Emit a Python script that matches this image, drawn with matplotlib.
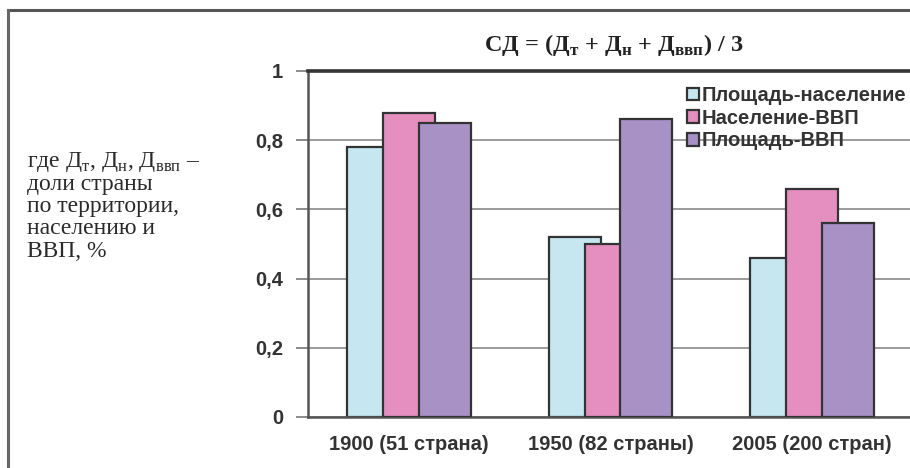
import numpy as np
import matplotlib.pyplot as plt
from matplotlib.lines import Line2D
from matplotlib.patches import Patch

plt.rcParams['mathtext.fontset'] = 'custom'
plt.rcParams['mathtext.rm'] = 'Liberation Serif'
plt.rcParams['mathtext.bf'] = 'Liberation Serif:bold'

categories = ["1900 (51 страна)", "1950 (82 страны)", "2005 (200 стран)"]
series_names = ["Площадь-население", "Население-ВВП", "Площадь-ВВП"]
area_pop = [0.78, 0.52, 0.46]
pop_gdp = [0.88, 0.50, 0.66]
area_gdp = [0.85, 0.86, 0.56]
yticks = [0, 0.2, 0.4, 0.6, 0.8, 1.0]
ytick_labels = ["0", "0,2", "0,4", "0,6", "0,8", "1"]

colors = ["#c6e7ef", "#e48fbf", "#a791c5"]
edge = "#333333"
sans = ['Liberation Sans', 'DejaVu Sans']
serif = ['Liberation Serif', 'DejaVu Serif']

W, H = 910, 468
fig = plt.figure(figsize=(W / 100, H / 100), dpi=100)
ax = fig.add_axes([308 / W, (H - 417) / H, (913 - 308) / W, (417 - 71) / H])

x = np.arange(len(categories))
width = 0.257
step = 0.178
for k, vals in enumerate([area_pop, pop_gdp, area_gdp]):
    ax.bar(x + (k - 1) * step, vals, width, color=colors[k],
           edgecolor=edge, linewidth=1.6, zorder=2 + k)

ax.set_xlim(-0.5, 2.5)
ax.set_ylim(0, 1)
ax.set_yticks(yticks)
ax.set_yticklabels(ytick_labels, fontfamily=sans, fontweight='bold',
                   fontsize=14.5, color="#333333")
ax.set_xticks(x)
ax.set_xticklabels(categories, fontfamily=sans, fontweight='bold',
                   fontsize=14.5, color="#333333")
ax.tick_params(axis='x', length=0, pad=13)
ax.tick_params(axis='y', length=9, width=1.2, color="#777777", pad=9)
ax.grid(axis='y', color="#8a8a8a", linewidth=1.2, zorder=0)
ax.set_axisbelow(True)
for side in ['left', 'bottom']:
    ax.spines[side].set_color("#555555")
    ax.spines[side].set_linewidth(1.8)
ax.spines['top'].set_color("#333333")
ax.spines['top'].set_linewidth(2.6)
ax.spines['right'].set_visible(False)

handles = [Patch(facecolor=c, edgecolor=edge, linewidth=1.6) for c in colors]
fig.legend(handles, series_names, loc='upper left',
           bbox_to_anchor=(687 / W, (H - 86) / H), frameon=False,
           prop={'family': sans, 'weight': 'bold', 'size': 14.5},
           handlelength=0.6, handleheight=0.6, handletextpad=0.15,
           labelspacing=0.18, borderpad=0, borderaxespad=0,
           labelcolor="#333333")

fig.text(614 / W, (H - 45) / H,
         r'СД = (Д$_{\mathbf{т}}$ + Д$_{\mathbf{н}}$ + Д$_{\mathbf{ввп}}$) / 3',
         ha='center', va='center', fontfamily=serif, fontweight='bold',
         fontsize=17.5, color="#222222")

left_lines = [r'где Д$_{\mathrm{т}}$, Д$_{\mathrm{н}}$, Д$_{\mathrm{ввп}}$ –',
              'доли страны', 'по территории,', 'населению и', 'ВВП, %']
for i, line in enumerate(left_lines):
    fig.text(27 / W, (H - 162 - i * 22.3) / H, line, ha='left', va='center',
             fontfamily=serif, fontsize=17, color="#2a2a2a")

fig.add_artist(Line2D([8 / W, 1.0], [(H - 10) / H, (H - 10) / H],
                      color="#555555", linewidth=2.2))
fig.add_artist(Line2D([8 / W, 8 / W], [0, (H - 10) / H],
                      color="#666666", linewidth=2.2))

fig.savefig("out.png", dpi=100)
